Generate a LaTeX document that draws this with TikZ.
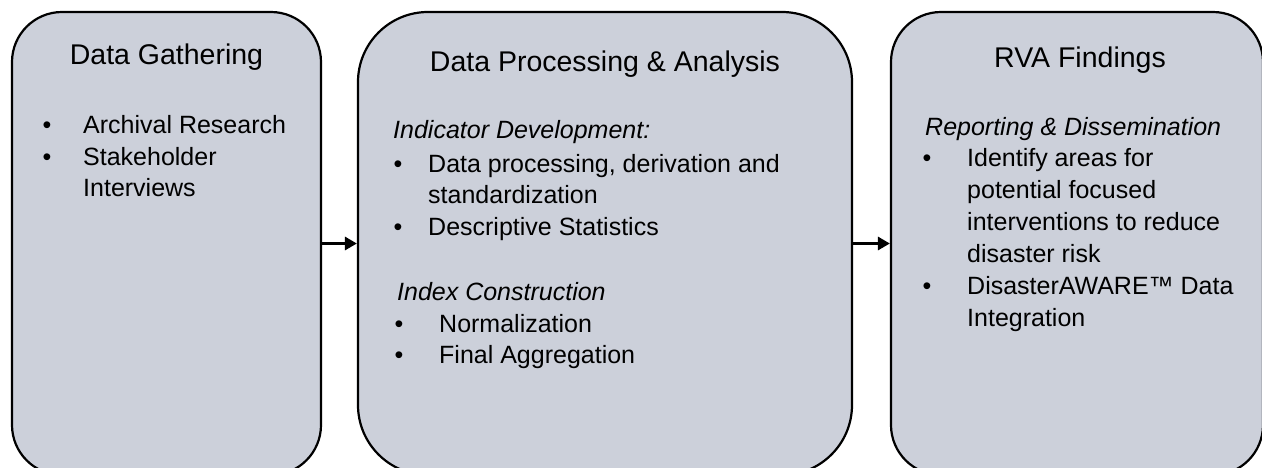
\documentclass[tikz,border=0pt]{standalone}
\usepackage{fontspec}
\setmainfont{Liberation Sans}
\usetikzlibrary{arrows.meta}
\definecolor{boxfill}{RGB}{204,208,218}
\begin{document}
\begin{tikzpicture}[x=1pt,y=-1pt,
  panel/.style={draw=black, line width=2.2pt, fill=boxfill, inner sep=0pt, rectangle},
  title/.style={anchor=base, inner sep=0pt, font=\fontsize{28.5}{34}\selectfont},
  body/.style={anchor=base west, inner sep=0pt, font=\fontsize{25}{31}\selectfont},
  head/.style={anchor=base west, inner sep=0pt, font=\fontsize{25}{31}\selectfont\itshape},
  dot/.style={anchor=base, inner sep=0pt, font=\fontsize{25}{31}\selectfont},
  arr/.style={line width=3pt, -{Triangle[length=12pt,width=13pt]}}
]
\useasboundingbox (0,0) rectangle (1262,467);
\clip (0,0) rectangle (1262,467);
% panels
\node[panel, rounded corners=50pt, minimum width=309pt, minimum height=463pt] (gather) at (166.5,243.5) {};
\node[panel, rounded corners=70pt, minimum width=494pt, minimum height=463pt] (proc) at (605,243.5) {};
\node[panel, rounded corners=50pt, minimum width=372pt, minimum height=463pt] (find) at (1077,243.5) {};
% arrows
\draw[arr] (gather.east) -- (proc.west);
\draw[arr] (proc.east) -- (find.west);
% left panel
\node[title] (t1) at (166.5,64) {Data Gathering};
\node[dot] (d11) at (47,133) {•};
\node[dot] (d12) at (47,165) {•};
\node[body] (l11) at (83,133) {Archival Research};
\node[body] (l12) at (83,165) {Stakeholder};
\node[body] (l13) at (83,196) {Interviews};
% middle panel
\node[title] (t2) at (605,71) {Data Processing \& Analysis};
\node[head] (h21) at (393,138) {Indicator Development:};
\node[dot] (d21) at (398,172) {•};
\node[dot] (d22) at (398,235) {•};
\node[body] (l21) at (428,172) {Data processing, derivation and};
\node[body] (l22) at (428,203) {standardization};
\node[body] (l23) at (428,235) {Descriptive Statistics};
\node[head] (h22) at (397,300) {Index Construction};
\node[dot] (d23) at (399,332) {•};
\node[dot] (d24) at (399,363) {•};
\node[body] (l24) at (439,332) {Normalization};
\node[body] (l25) at (439,363) {Final Aggregation};
% right panel
\node[title] (t3) at (1080,67) {RVA Findings};
\node[head] (h31) at (925,135) {Reporting \& Dissemination};
\node[dot] (d31) at (927,166) {•};
\node[dot] (d32) at (927,294) {•};
\node[body] (l31) at (967,166) {Identify areas for};
\node[body] (l32) at (967,198) {potential focused};
\node[body] (l33) at (967,230) {interventions to reduce};
\node[body] (l34) at (967,262) {disaster risk};
\node[body] (l35) at (967,294) {DisasterAWARE™ Data};
\node[body] (l36) at (967,326) {Integration};
\end{tikzpicture}
\end{document}
